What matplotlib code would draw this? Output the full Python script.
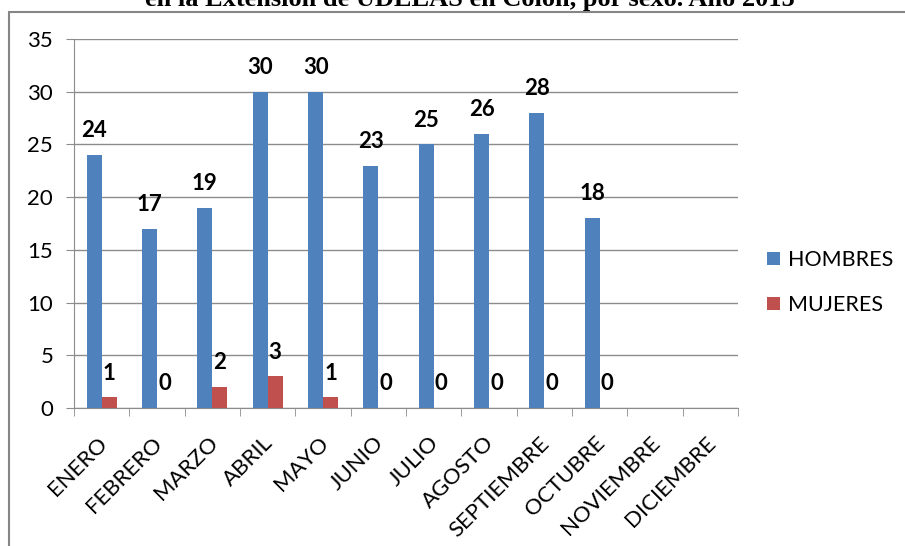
import numpy as np
import matplotlib.pyplot as plt
from matplotlib.patches import Rectangle
from matplotlib.transforms import ScaledTranslation

meses = ['ENERO', 'FEBRERO', 'MARZO', 'ABRIL', 'MAYO', 'JUNIO', 'JULIO',
         'AGOSTO', 'SEPTIEMBRE', 'OCTUBRE', 'NOVIEMBRE', 'DICIEMBRE']
hombres = [24, 17, 19, 30, 30, 23, 25, 26, 28, 18, None, None]
mujeres = [1, 0, 2, 3, 1, 0, 0, 0, 0, 0, None, None]
titulo = 'en la Extensión de UDELAS en Colón, por sexo. Año 2015'

plt.rcParams['font.family'] = ['Lato', 'DejaVu Sans']

fig = plt.figure(figsize=(9.05, 5.46), dpi=100)
ax = fig.add_axes([0.0818, 0.2527, 0.7337, 0.6759])

x = np.arange(len(meses))
w = 0.27
h_vals = [np.nan if v is None else v for v in hombres]
m_vals = [np.nan if v is None else v for v in mujeres]
ax.bar(x - w / 2, h_vals, w, color='#4F81BD', label='HOMBRES', zorder=3)
ax.bar(x + w / 2, m_vals, w, color='#C0504D', label='MUJERES', zorder=3)

for i in range(len(meses)):
    if hombres[i] is not None:
        ax.annotate(str(hombres[i]), (x[i] - w / 2, hombres[i]), xytext=(0, 10),
                    textcoords='offset points', ha='center', va='bottom',
                    fontsize=16, fontweight='bold')
    if mujeres[i] is not None:
        ax.annotate(str(mujeres[i]), (x[i] + w / 2, mujeres[i]), xytext=(0, 10),
                    textcoords='offset points', ha='center', va='bottom',
                    fontsize=16, fontweight='bold')

ax.set_xlim(-0.5, len(meses) - 0.5)
ax.set_ylim(0, 35)
ax.set_yticks(range(0, 36, 5))
ax.yaxis.grid(True, color='#8C8C8C', linewidth=1, zorder=0)
ax.tick_params(axis='y', labelsize=16, length=6, color='#8C8C8C', pad=9)

ax.set_xticks(x)
ax.set_xticklabels(meses, rotation=45, ha='right', rotation_mode='anchor',
                   fontsize=16)
ax.tick_params(axis='x', length=0, pad=18)
desplaza = ScaledTranslation(-5 / 100, 0, fig.dpi_scale_trans)
for lab in ax.get_xticklabels():
    lab.set_transform(lab.get_transform() + desplaza)
ax.set_xticks(np.arange(-0.5, len(meses), 1), minor=True)
ax.tick_params(axis='x', which='minor', length=6, color='#8C8C8C')

for s in ['top', 'right']:
    ax.spines[s].set_visible(False)
for s in ['left', 'bottom']:
    ax.spines[s].set_color('#8C8C8C')

ax.legend(loc='center left', bbox_to_anchor=(1.014, 0.34), frameon=False,
          fontsize=15.5, handlelength=0.6, handleheight=0.6, labelspacing=1.15,
          handletextpad=0.4)

fig.patches.append(Rectangle((9 / 905, -0.1), 1.2, 1.1 - 12 / 546,
                             transform=fig.transFigure, fill=False,
                             edgecolor='#868686', linewidth=1.5))
fig.text(0.519, 1 - 6 / 546, titulo, ha='center', va='baseline',
         fontsize=19, fontweight='bold', family='Liberation Serif')

fig.savefig('out.png', dpi=100)
